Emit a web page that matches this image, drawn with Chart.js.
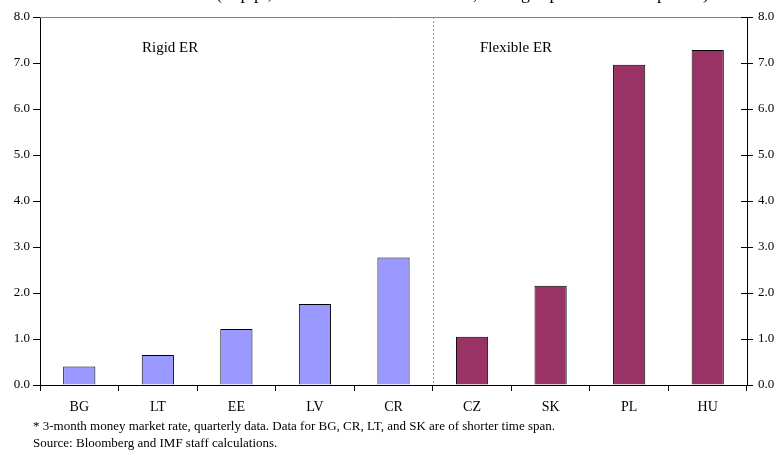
<!DOCTYPE html>
<html>
<head>
<meta charset="utf-8">
<script src="https://cdn.jsdelivr.net/npm/chart.js@4"></script>
<style>
  body { margin: 0; background: #fff; }
  #wrap { width: 779px; height: 452px; }
</style>
</head>
<body>
<div id="wrap"><canvas id="canvas" width="779" height="452"></canvas></div>
<script>
var pays = ["BG", "LT", "EE", "LV", "CR", "CZ", "SK", "PL", "HU"];
var ecart = [0.40, 0.65, 1.22, 1.76, 2.77, 1.05, 2.16, 6.96, 7.28];
var couleurs = ["#9999FF", "#9999FF", "#9999FF", "#9999FF", "#9999FF", "#993366", "#993366", "#993366", "#993366"];
var groupes = ["Rigid ER", "Flexible ER"];
var titre = "(in p.p.; maximum minus minimum, average spread over the period)";
var notes = [
  "* 3-month money market rate, quarterly data. Data for BG, CR, LT, and SK are of shorter time span.",
  "Source: Bloomberg and IMF staff calculations."
];

var serif = "'Liberation Serif', 'Times New Roman', serif";

var decor = {
  id: "decor",
  afterDraw: function(chart) {
    var ctx = chart.ctx, a = chart.chartArea, x = chart.scales.x, yr = chart.scales.y2;
    ctx.save();
    // top border
    ctx.strokeStyle = "#808080";
    ctx.lineWidth = 1;
    ctx.beginPath();
    ctx.moveTo(a.left, a.top + 0.5);
    ctx.lineTo(a.right, a.top + 0.5);
    ctx.stroke();
    // divider
    var xm = Math.round((x.getPixelForValue(4) + x.getPixelForValue(5)) / 2) + 0.5;
    ctx.strokeStyle = "#999";
    ctx.setLineDash([2, 2]);
    ctx.beginPath();
    ctx.moveTo(xm, a.top);
    ctx.lineTo(xm, a.bottom);
    ctx.stroke();
    ctx.setLineDash([]);
    // inner ticks on right axis
    ctx.strokeStyle = "#000";
    for (var v = 0; v <= 8; v++) {
      var py = Math.round(yr.getPixelForValue(v)) + 0.5;
      ctx.beginPath();
      ctx.moveTo(a.right - 6, py);
      ctx.lineTo(a.right, py);
      ctx.stroke();
    }
    // group labels
    ctx.fillStyle = "#000";
    ctx.font = "15px " + serif;
    ctx.textBaseline = "middle";
    ctx.fillText(groupes[0], 142, 48);
    ctx.fillText(groupes[1], 480, 48);
    // cropped title
    ctx.font = "18px " + serif;
    ctx.textBaseline = "alphabetic";
    ctx.fillText(titre, 216, -1);
    // notes
    ctx.font = "13px " + serif;
    ctx.fillText(notes[0], 33, 430);
    ctx.fillText(notes[1], 33, 447);
    ctx.restore();
  }
};

var config = {
  type: "bar",
  data: {
    labels: pays,
    datasets: [{
      data: ecart,
      backgroundColor: couleurs,
      borderColor: "#000",
      borderWidth: 1,
      categoryPercentage: 1,
      barPercentage: 0.41,
      yAxisID: "y"
    }]
  },
  options: {
    responsive: false,
    animation: false,
    layout: { padding: { top: 17, left: 0, right: 0, bottom: 32 } },
    plugins: { legend: { display: false }, tooltip: { enabled: false } },
    scales: {
      x: {
        grid: { display: true, drawOnChartArea: false, offset: true, tickLength: 6, color: "#000" },
        border: { color: "#000" },
        ticks: { color: "#000", font: { family: serif, size: 14 }, padding: 8, maxRotation: 0 },
        afterFit: function(s) { s.height = 35; }
      },
      y: {
        position: "left",
        min: 0, max: 8,
        grid: { display: true, drawOnChartArea: false, tickLength: 7, color: "#000" },
        border: { color: "#000" },
        ticks: { stepSize: 1, color: "#000", font: { family: serif, size: 13 }, padding: 3,
          callback: function(v) { return v.toFixed(1); } },
        afterFit: function(s) { s.width = 40; }
      },
      y2: {
        position: "right",
        min: 0, max: 8,
        grid: { display: true, drawOnChartArea: false, tickLength: 6, color: "#000" },
        border: { color: "#000" },
        ticks: { stepSize: 1, color: "#000", font: { family: serif, size: 13 }, padding: 5,
          callback: function(v) { return v.toFixed(1); } },
        afterFit: function(s) { s.width = 32; }
      }
    }
  },
  plugins: [decor]
};

window.onload = function() {
  var ctx = document.getElementById("canvas").getContext("2d");
  window.graph1 = new Chart(ctx, config);
};
</script>
</body>
</html>
